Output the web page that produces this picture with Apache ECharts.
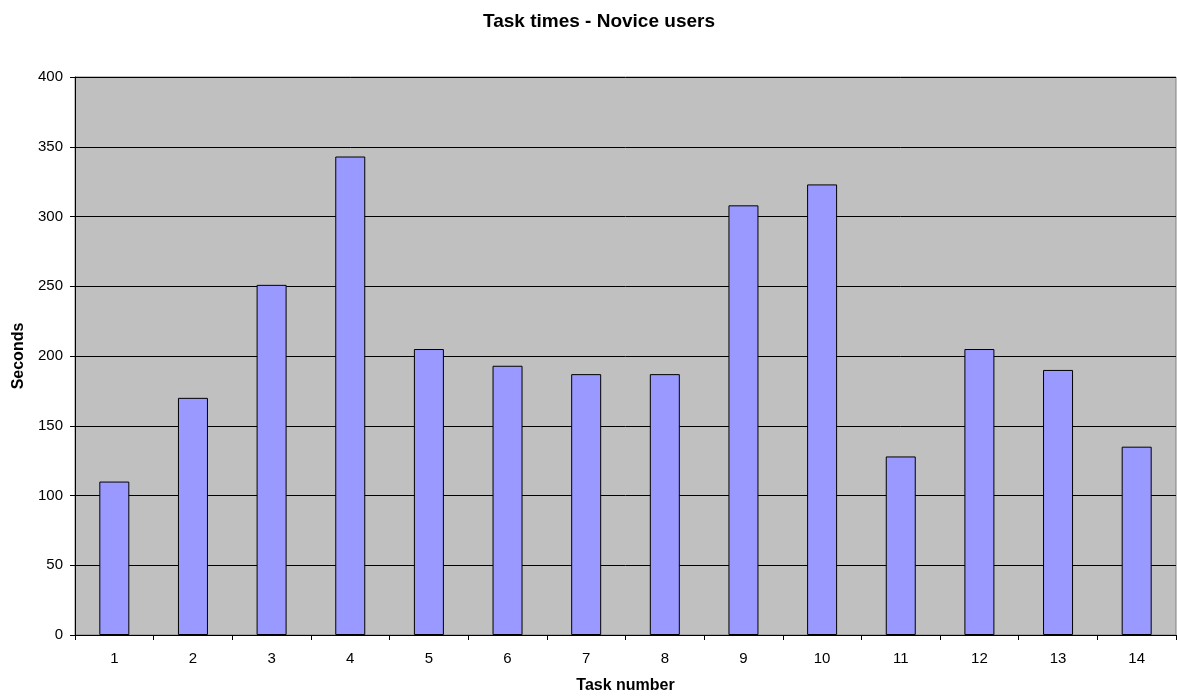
<!DOCTYPE html>
<html>
<head>
<meta charset="utf-8">
<script src="https://cdn.jsdelivr.net/npm/echarts@6/dist/echarts.min.js"></script>
<style>
  html, body { margin: 0; padding: 0; background: #ffffff; }
  #chart { width: 1177px; height: 699px; }
</style>
</head>
<body>
<div id="chart"></div>
<script>
// Task numbers and average completion times (seconds)
const tasks = ['1', '2', '3', '4', '5', '6', '7', '8', '9', '10', '11', '12', '13', '14'];
const seconds = [110, 170, 251, 343, 205, 193, 187, 187, 308, 323, 128, 205, 190, 135];
const yTicks = { min: 0, max: 400, interval: 50 };

const FONT = 'Liberation Sans, Arial, sans-serif';

const chart = echarts.init(document.getElementById('chart'));
chart.setOption({
  animation: false,
  backgroundColor: '#ffffff',
  title: {
    text: 'Task times - Novice users',
    left: 478,
    top: 7,
    textStyle: { fontFamily: FONT, fontSize: 19, fontWeight: 'bold', color: '#000' }
  },
  grid: {
    left: 75, right: 1, top: 77, bottom: 63,
    show: true,
    backgroundColor: '#c0c0c0',
    borderColor: '#808080',
    borderWidth: 1
  },
  xAxis: {
    type: 'category',
    data: tasks,
    name: 'Task number',
    nameLocation: 'middle',
    nameGap: 43,
    nameTextStyle: { fontFamily: FONT, fontSize: 16, fontWeight: 'bold', color: '#000' },
    axisLine: { lineStyle: { color: '#000', width: 1 } },
    axisTick: { show: true, length: 5, lineStyle: { color: '#000' } },
    axisLabel: { fontFamily: FONT, fontSize: 15, color: '#000', margin: 16 }
  },
  yAxis: {
    type: 'value',
    min: yTicks.min, max: yTicks.max, interval: yTicks.interval,
    name: 'Seconds',
    nameLocation: 'middle',
    nameGap: 47,
    nameTextStyle: { fontFamily: FONT, fontSize: 16, fontWeight: 'bold', color: '#000' },
    axisLine: { show: true, lineStyle: { color: '#000', width: 1 } },
    axisTick: { show: true, length: 5, lineStyle: { color: '#000' } },
    axisLabel: { fontFamily: FONT, fontSize: 15, color: '#000', margin: 12 },
    splitLine: { show: true, lineStyle: { color: '#000', width: 1 } }
  },
  series: [{
    type: 'bar',
    data: seconds,
    barWidth: 30,
    itemStyle: { color: '#9999ff', borderColor: '#000', borderWidth: 1 }
  }]
});
</script>
</body>
</html>
